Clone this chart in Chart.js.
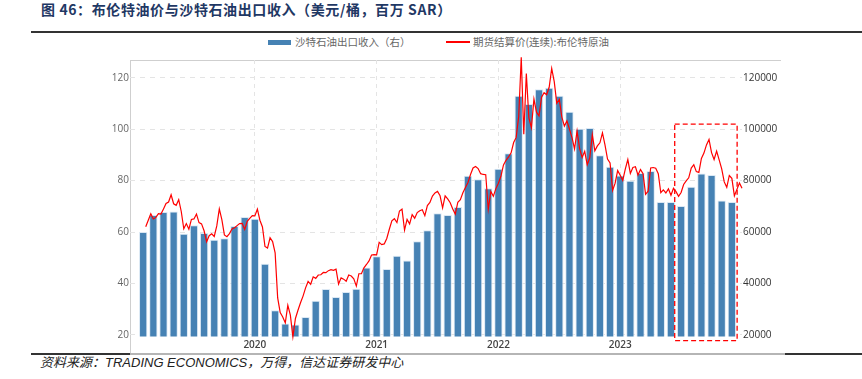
<!DOCTYPE html>
<html>
<head>
<meta charset="utf-8">
<script src="https://cdn.jsdelivr.net/npm/chart.js@4.4.1/dist/chart.umd.min.js"></script>
<style>
  html, body { margin: 0; padding: 0; background: #fff; }
  #wrap { position: relative; width: 862px; height: 379px; overflow: hidden; }
  #wrap div, #wrap span { position: absolute; white-space: nowrap; }
  .title { left: 41px; top: 1px; font: bold 14px/16px "Noto Sans CJK SC", sans-serif; letter-spacing: 0.6px; color: #1f3864; }
  .rule-top { left: 31px; top: 31px; width: 831px; height: 2px; background: #333; }
  .frame-top { left: 130px; top: 60px; width: 651px; height: 1px; background: #cfcfcf; }
  .frame-left { left: 130px; top: 60px; width: 1px; height: 294px; background: #cfcfcf; }
  .rule-bottom { left: 31px; top: 353px; width: 831px; height: 2px; background: #333; }
  .rule-bottom-grey { left: 130px; top: 353px; width: 655px; height: 2px; background: #b5b5b5; }
  .legend { top: 35px; font: 10.5px/14px "Noto Sans CJK SC", sans-serif; color: #666; }
  .swatch-bar { left: 268px; top: 40px; width: 23px; height: 5px; background: #4682b4; }
  .swatch-line { left: 446px; top: 41px; width: 24px; height: 2px; background: #ff0000; }
  .source { left: 40px; top: 355px; font: italic 13px/16px "Liberation Sans", "Noto Sans CJK SC", sans-serif; color: #222; }
  canvas { position: absolute; left: 0; top: 0; }
</style>
</head>
<body>
<div id="wrap">
  <div class="title">图 46：布伦特油价与沙特石油出口收入（美元/桶，百万 SAR）</div>
  <div class="rule-top"></div>
  <div class="swatch-bar"></div>
  <div class="legend" style="left:295px">沙特石油出口收入（右）</div>
  <div class="swatch-line"></div>
  <div class="legend" style="left:473px">期货结算价(连续):布伦特原油</div>
  <div class="frame-top"></div>
  <div class="frame-left"></div>
  <div class="rule-bottom"></div>
  <div class="rule-bottom-grey"></div>
  <div class="source">资料来源：TRADING ECONOMICS，万得，信达证券研发中心</div>
  <canvas id="chart" width="862" height="379"></canvas>
</div>
<script>
// monthly Saudi oil export revenue (million SAR), Feb 2019 .. Dec 2023
const exportMonths = [
  '2019-02','2019-03','2019-04','2019-05','2019-06','2019-07','2019-08','2019-09','2019-10','2019-11','2019-12',
  '2020-01','2020-02','2020-03','2020-04','2020-05','2020-06','2020-07','2020-08','2020-09','2020-10','2020-11','2020-12',
  '2021-01','2021-02','2021-03','2021-04','2021-05','2021-06','2021-07','2021-08','2021-09','2021-10','2021-11','2021-12',
  '2022-01','2022-02','2022-03','2022-04','2022-05','2022-06','2022-07','2022-08','2022-09','2022-10','2022-11','2022-12',
  '2023-01','2023-02','2023-03','2023-04','2023-05','2023-06','2023-07','2023-08','2023-09','2023-10','2023-11','2023-12'
];
const exportRevenue = [
  60000, 66600, 67800, 68000, 59300, 62700, 59600, 57000, 57600, 62400, 65900,
  65200, 47700, 29600, 24500, 24100, 27000, 33300, 37900, 34800, 36700, 38000, 46200,
  50600, 45600, 50800, 48900, 56400, 60700, 67300, 66600, 69700, 81900, 80500, 77000,
  84600, 90600, 113000, 109800, 115500, 116100, 113000, 106800, 100200, 100500, 89900, 85400,
  82000, 80000, 83000, 83700, 71700, 71700, 70100, 77600, 82800, 82200, 72300, 71700
];

// Brent continuous settlement (USD/bbl), sampled about weekly from 8 Feb 2019
const brentStart = 1.25;   // months after Jan 2019
const brentStep = 0.25;
const brentPrice = [
  62.1, 64.6, 67.1,
  65.1, 65.7, 67.2, 67.0,   69.0, 71.1, 71.7, 74.5,   71.0, 70.4, 72.6, 68.0,
  61.3, 63.3, 61.1, 64.9,   65.1, 67.0, 63.7, 63.2,   60.5, 56.2, 58.6, 59.3,
  58.3, 62.4, 69.0, 64.8,   58.9, 58.2, 59.4, 61.2,   61.7, 62.5, 63.3, 63.4,
  61.0, 64.2, 65.3, 66.4,
  66.3, 68.9, 64.6, 62.0,   54.4, 53.8, 57.8, 56.3,   51.9, 34.4, 28.7, 27.0,
  24.7, 31.5, 27.7, 19.3,   26.4, 29.6, 32.5, 35.1,   38.3, 40.8, 39.7, 42.6,
  42.0, 43.3, 43.4, 44.3,   44.2, 45.0, 45.4, 45.1,   45.6, 39.8, 42.2, 41.7,
  40.9, 43.3, 42.9, 41.8,   39.0, 43.8, 43.8, 46.1,   47.4, 48.8, 51.1, 51.2,
  51.1, 56.0, 55.1, 55.4,   57.5, 61.1, 64.4, 65.2,   63.7, 68.2, 68.9, 60.8,
  64.9, 63.2, 66.8, 65.4,   67.6, 68.3, 68.7, 66.4,   70.3, 71.5, 74.0, 75.2,
  75.8, 74.1, 69.4, 74.1,   72.9, 71.4, 69.0, 67.0,   71.6, 72.6, 75.3, 77.3,
  79.3, 82.4, 84.9, 85.5,   84.7, 82.7, 82.4, 82.3,   68.9, 75.8, 73.9, 76.9,
  79.0, 81.8, 86.1, 87.9,   89.2, 90.8, 94.8, 96.8,   105.0, 128.0, 98.0, 121.6,
  104.4, 100.6, 111.7, 106.6, 105.2, 112.4, 114.2, 113.4, 116.3, 123.6, 118.5, 110.1,
  111.6, 104.7, 101.2, 103.2, 100.0, 96.7, 92.3, 99.3,  92.4, 89.0, 91.4, 86.2,
  88.9, 97.9, 91.6, 93.5,   94.7, 98.6, 93.9, 88.4,   86.9, 76.2, 79.0, 83.9,
  82.1, 80.1, 84.5, 88.2,   82.8, 85.1, 85.4, 82.2,   84.3, 82.7, 74.7, 75.9,
  84.9, 85.1, 84.8, 82.7,   75.3, 76.4, 75.2, 76.8,   74.3, 77.0, 75.7, 73.9,
  75.4, 78.5, 79.9, 81.1,   84.9, 86.2, 83.5, 83.2,   88.6, 90.7, 93.9, 96.0,
  90.9, 88.2, 91.5, 88.1,   84.6, 79.5, 77.4, 82.0,   80.9, 74.1, 76.6, 79.1,
  77.0
];

const yearLabels = ['2020', '2021', '2022', '2023'];
const leftTicks = [20, 40, 60, 80, 100, 120];
const rightTicks = [20000, 40000, 60000, 80000, 100000, 120000];

// highlighted period (dashed box), in axis units
const highlight = { x0: 53.37, x1: 59.52, y0: 17.8, y1: 102 };

function monthIndex(ym) {
    const [y, m] = ym.split('-').map(Number);
    return (y - 2019) * 12 + (m - 1);
}

const barPoints = exportMonths.map((m, i) => ({ x: monthIndex(m), y: exportRevenue[i] }));
const linePoints = brentPrice.map((p, i) => ({ x: brentStart + i * brentStep, y: p }));

const highlightBox = {
    id: 'highlightBox',
    afterDatasetsDraw(chart) {
        const { ctx, scales } = chart;
        const left = scales.x.getPixelForValue(highlight.x0);
        const right = scales.x.getPixelForValue(highlight.x1);
        const top = scales.y.getPixelForValue(highlight.y1);
        const bottom = scales.y.getPixelForValue(highlight.y0);
        ctx.save();
        ctx.strokeStyle = '#ff0000';
        ctx.lineWidth = 1.3;
        ctx.setLineDash([5, 3]);
        ctx.strokeRect(left, top, right - left, bottom - top);
        ctx.restore();
    }
};

const tickFont = { family: '"Open Sans", "DejaVu Sans", sans-serif', size: 10 };

new Chart(document.getElementById('chart'), {
    type: 'bar',
    data: {
        datasets: [
            {
                type: 'line',
                label: '期货结算价(连续):布伦特原油',
                data: linePoints,
                yAxisID: 'y',
                borderColor: '#ff0000',
                borderWidth: 1.2,
                pointRadius: 0,
                tension: 0,
                clip: false,
                order: 0
            },
            {
                type: 'bar',
                label: '沙特石油出口收入（右）',
                data: barPoints,
                yAxisID: 'y1',
                backgroundColor: '#4682b4',
                borderColor: 'rgba(215, 229, 243, 0.9)',
                borderWidth: 1,
                barPercentage: 0.82,
                categoryPercentage: 1,
                order: 1
            }
        ]
    },
    options: {
        responsive: false,
        animation: false,
        layout: { padding: { top: 60, left: 0, right: 0, bottom: 0 } },
        plugins: {
            legend: { display: false },
            tooltip: { enabled: false }
        },
        scales: {
            x: {
                type: 'linear',
                min: -0.3,
                max: 60,
                offset: false,
                afterBuildTicks: axis => {
                    axis.ticks = yearLabels.map(y => ({ value: (Number(y) - 2019) * 12 }));
                },
                afterFit: axis => { axis.height = 42.5; },
                ticks: {
                    padding: 3,
                    color: '#444',
                    font: { ...tickFont, weight: '600' },
                    callback: (value, i) => yearLabels[i]
                },
                grid: { color: '#e4e4e4', drawTicks: false, offset: false },
                border: { display: false, dash: [4, 4] }
            },
            y: {
                position: 'left',
                min: 19.4,
                max: 126.9,
                afterBuildTicks: axis => {
                    axis.ticks = leftTicks.map(v => ({ value: v }));
                },
                afterFit: axis => { axis.width = 130; },
                ticks: { padding: 1, color: '#666', font: tickFont },
                grid: { color: '#e4e4e4', drawTicks: false },
                border: { display: false, dash: [5, 5] }
            },
            y1: {
                position: 'right',
                min: 19400,
                max: 126900,
                afterBuildTicks: axis => {
                    axis.ticks = rightTicks.map(v => ({ value: v }));
                },
                afterFit: axis => { axis.width = 120; },
                ticks: { padding: 1, color: '#333', font: tickFont, callback: value => String(value) },
                grid: { drawOnChartArea: false, drawTicks: false },
                border: { display: false }
            }
        }
    },
    plugins: [highlightBox]
});
</script>
</body>
</html>
